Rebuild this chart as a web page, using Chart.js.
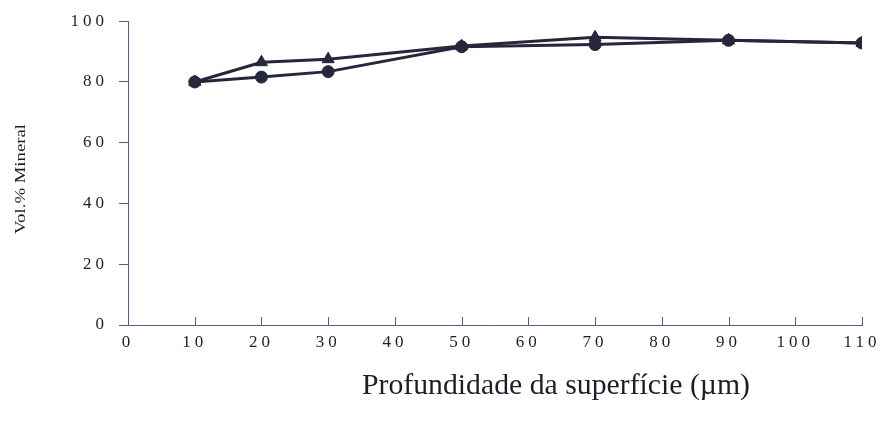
<!DOCTYPE html>
<html>
<head>
<meta charset="utf-8">
<script src="https://cdn.jsdelivr.net/npm/chart.js@4.4.1/dist/chart.umd.min.js"></script>
<style>
  html, body { margin: 0; padding: 0; background: #ffffff; }
  #wrap { width: 886px; height: 421px; }
</style>
</head>
<body>
<div id="wrap"><canvas id="c" width="886" height="421"></canvas></div>
<script>
// Depth from the surface (µm)
const depths = [10, 20, 30, 50, 70, 90, 110];
// Mineral volume (%) for the two profiles
const seriesTriangle = [80, 86.5, 87.5, 91.8, 94.7, 93.7, 92.8];
const seriesCircle   = [80, 81.6, 83.4, 91.6, 92.3, 93.7, 92.8];
// Tick values on both axes
const xTicks = [0, 10, 20, 30, 40, 50, 60, 70, 80, 90, 100, 110];
const yTicks = [0, 20, 40, 60, 80, 100];

const yTitle = 'Vol.% Mineral';
const xTitle = 'Profundidade da superfície (µm)';

const lineColor = '#26263c';
const axisColor = '#5a5a80';
const textColor = '#1e1e2a';
const serif = '"Liberation Serif", "Times New Roman", serif';

function toPoints(ys) {
  return depths.map((x, i) => ({ x: x, y: ys[i] }));
}

// Draws text stretched/condensed horizontally to a given width
function fillFitted(ctx, text, cx, cy, width) {
  const w = ctx.measureText(text).width;
  ctx.save();
  ctx.translate(cx, cy);
  ctx.scale(width / w, 1);
  ctx.fillText(text, 0, 0);
  ctx.restore();
}

// Spaced tick digits, axis titles and inward x tick marks
const axisDecor = {
  id: 'axisDecor',
  beforeDraw(chart) {
    chart.ctx.letterSpacing = '4px';
  },
  afterDraw(chart) {
    const ctx = chart.ctx;
    const xs = chart.scales.x;
    const area = chart.chartArea;
    ctx.save();
    ctx.letterSpacing = '0px';
    ctx.strokeStyle = axisColor;
    ctx.lineWidth = 1;
    xTicks.forEach(v => {
      const px = Math.round(xs.getPixelForValue(v)) + 0.5;
      ctx.beginPath();
      ctx.moveTo(px, area.bottom);
      ctx.lineTo(px, area.bottom - 8);
      ctx.stroke();
    });
    ctx.fillStyle = textColor;
    ctx.textAlign = 'center';
    ctx.textBaseline = 'middle';
    ctx.font = '30px ' + serif;
    fillFitted(ctx, xTitle, 556, 386, 388);
    ctx.font = '15px ' + serif;
    ctx.translate(21, 179);
    ctx.rotate(-Math.PI / 2);
    fillFitted(ctx, yTitle, 0, 0, 110);
    ctx.restore();
  }
};

new Chart(document.getElementById('c'), {
  type: 'line',
  data: {
    datasets: [
      {
        label: 'A',
        data: toPoints(seriesTriangle),
        borderColor: lineColor,
        backgroundColor: lineColor,
        borderWidth: 3,
        pointStyle: 'triangle',
        pointRadius: 7,
        pointBorderWidth: 1,
        tension: 0
      },
      {
        label: 'B',
        data: toPoints(seriesCircle),
        borderColor: lineColor,
        backgroundColor: lineColor,
        borderWidth: 3,
        pointStyle: 'circle',
        pointRadius: 6,
        pointBorderWidth: 1,
        tension: 0
      }
    ]
  },
  options: {
    responsive: false,
    animation: false,
    devicePixelRatio: 1,
    layout: { padding: { left: 0, right: 24, top: 21, bottom: 0 } },
    plugins: {
      legend: { display: false },
      tooltip: { enabled: false }
    },
    scales: {
      x: {
        type: 'linear',
        min: 0,
        max: 110,
        afterBuildTicks: s => { s.ticks = xTicks.map(v => ({ value: v })); },
        afterFit: s => { s.height = 96; },
        grid: { display: false, drawTicks: false },
        border: { display: true, color: axisColor, width: 1 },
        ticks: {
          padding: 7,
          color: textColor,
          font: { family: serif, size: 17 },
          maxRotation: 0,
          autoSkip: false
        }
      },
      y: {
        min: 0,
        max: 100,
        afterBuildTicks: s => { s.ticks = yTicks.map(v => ({ value: v })); },
        afterFit: s => { s.width = 128; },
        grid: { drawOnChartArea: false, drawTicks: true, tickLength: 9, color: axisColor },
        border: { display: true, color: axisColor, width: 1 },
        ticks: {
          padding: 11,
          color: textColor,
          font: { family: serif, size: 17 }
        }
      }
    }
  },
  plugins: [axisDecor]
});
</script>
</body>
</html>
